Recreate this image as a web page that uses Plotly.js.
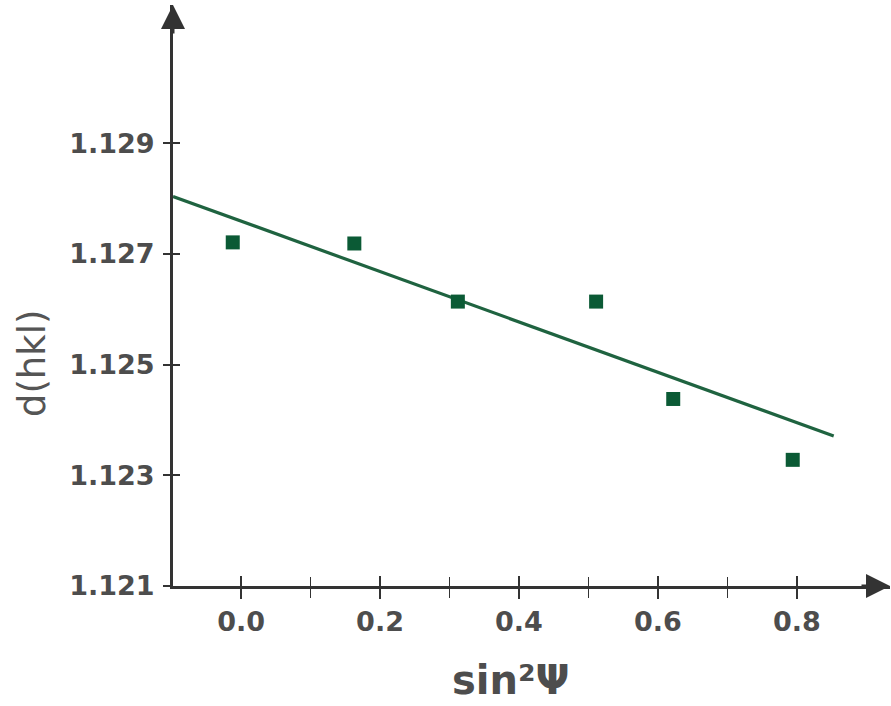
<!DOCTYPE html>
<html>
<head>
<meta charset="utf-8">
<script src="https://cdn.plot.ly/plotly-3.0.1.min.js"></script>
<style>html,body{margin:0;padding:0;background:#fff;}#chart{width:891px;height:706px;}</style>
</head>
<body>
<div id="chart"></div>
<script>
// measured data points
const sin2psi = [-0.012, 0.163, 0.312, 0.511, 0.622, 0.794];
const dhkl = [1.12721, 1.12719, 1.12614, 1.12614, 1.12438, 1.12328];
// fitted line end points
const fitX = [-0.098, 0.853];
const fitY = [1.12804, 1.12371];
// tick labels
const xTickVals = [0.0, 0.2, 0.4, 0.6, 0.8];
const xTickText = ['0.0', '0.2', '0.4', '0.6', '0.8'];
const xMinorVals = [0.1, 0.3, 0.5, 0.7];
const yTickVals = [1.121, 1.123, 1.125, 1.127, 1.129];
const yTickText = ['1.121', '1.123', '1.125', '1.127', '1.129'];
// axis labels
const xTitle = 'sin\u00b2\u03a8';
const yTitle = 'd(hkl)';

const green = '#0b5a35';
const lineGreen = '#1f6340';
const axisCol = '#333333';
const textCol = '#4d4d4d';
const font = 'DejaVu Sans, Arial, sans-serif';

const traces = [
  {x: fitX, y: fitY, mode: 'lines', line: {color: lineGreen, width: 3.2}, hoverinfo: 'skip', showlegend: false},
  {x: sin2psi, y: dhkl, mode: 'markers', marker: {symbol: 'square', size: 14, color: green}, showlegend: false},
  {x: [], y: [], xaxis: 'x2', yaxis: 'y2', showlegend: false}
];

const xr = [-0.098, 0.934];
const yr = [1.121, 1.1315];

const layout = {
  width: 891, height: 706,
  margin: {l: 173, r: 1, t: 5, b: 120},
  paper_bgcolor: '#ffffff', plot_bgcolor: '#ffffff',
  font: {family: font, color: textCol},
  xaxis: {
    range: xr, showgrid: false, zeroline: false,
    showline: true, linecolor: axisCol, linewidth: 3,
    tickmode: 'array', tickvals: xTickVals, ticktext: xTickText,
    ticks: 'outside', ticklen: 10, tickwidth: 2, tickcolor: axisCol,
    minor: {tickmode: 'array', tickvals: xMinorVals, ticks: 'outside', ticklen: 9, tickwidth: 1.5, tickcolor: axisCol},
    tickfont: {size: 27, color: textCol, family: font, weight: 'bold'},
    ticklabelstandoff: 0
  },
  yaxis: {
    range: yr, showgrid: false, zeroline: false,
    showline: true, linecolor: axisCol, linewidth: 3,
    tickmode: 'array', tickvals: yTickVals, ticktext: yTickText,
    ticks: 'outside', ticklen: 7, tickwidth: 2, tickcolor: axisCol,
    tickfont: {size: 27, color: textCol, family: font, weight: 'bold'},
    ticklabelstandoff: 3
  },
  xaxis2: {
    overlaying: 'x', matches: 'x', anchor: 'y2', showgrid: false, zeroline: false,
    showline: false, showticklabels: false,
    tickmode: 'array', tickvals: xTickVals, ticks: 'inside', ticklen: 10, tickwidth: 2, tickcolor: axisCol,
    minor: {tickmode: 'array', tickvals: xMinorVals, ticks: 'inside', ticklen: 9, tickwidth: 1.5, tickcolor: axisCol}
  },
  yaxis2: {
    overlaying: 'y', matches: 'y', anchor: 'x2', showgrid: false, zeroline: false,
    showline: false, showticklabels: false,
    tickmode: 'array', tickvals: yTickVals.slice(1), ticks: 'inside', ticklen: 7, tickwidth: 2, tickcolor: axisCol
  },
  annotations: [
    {xref: 'paper', yref: 'paper', x: 1, y: 0, ax: -30, ay: 0, text: '', showarrow: true,
     arrowhead: 2, arrowsize: 1.6, arrowwidth: 3, arrowcolor: axisCol, standoff: 0},
    {xref: 'paper', yref: 'paper', x: 0, y: 1, ax: 0, ay: 30, text: '', showarrow: true,
     arrowhead: 2, arrowsize: 1.6, arrowwidth: 3, arrowcolor: axisCol, standoff: 0},
    {xref: 'paper', yref: 'paper', x: 0.471, y: -0.162, text: xTitle, showarrow: false,
     xanchor: 'center', yanchor: 'middle', font: {size: 40, color: textCol, family: font, weight: 'bold'}},
    {xref: 'paper', yref: 'paper', x: -0.195, y: 0.384, text: yTitle, showarrow: false, textangle: -90,
     xanchor: 'center', yanchor: 'middle', font: {size: 37, color: '#555555', family: font}}
  ]
};

Plotly.newPlot('chart', traces, layout, {displayModeBar: false, staticPlot: true});
</script>
</body>
</html>
